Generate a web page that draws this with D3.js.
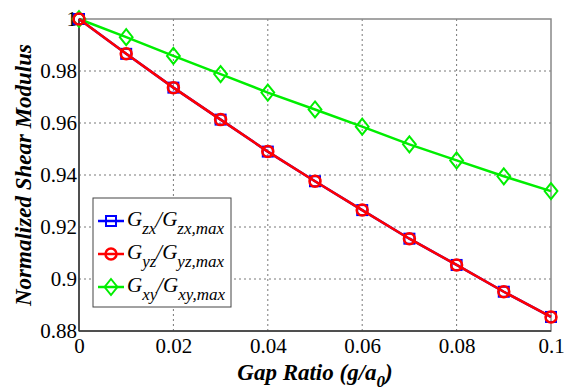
<!DOCTYPE html>
<html>
<head>
<meta charset="utf-8">
<script src="https://cdn.jsdelivr.net/npm/d3@7"></script>
</head>
<body style="margin:0">
<svg width="566" height="392" font-family="Liberation Serif, DejaVu Serif, serif">
  <text transform="translate(31,175) rotate(-90)" text-anchor="middle" font-family="Liberation Serif"
    font-weight="bold" font-style="italic" font-size="23">Normalized Shear Modulus</text>
</svg>
<script>
const gapRatio = [0, 0.01, 0.02, 0.03, 0.04, 0.05, 0.06, 0.07, 0.08, 0.09, 0.1];
const gzx = [1, 0.9866, 0.9736, 0.9613, 0.9490, 0.9376, 0.9265, 0.9155, 0.9054, 0.8951, 0.8854];
const gyz = [1, 0.9866, 0.9736, 0.9613, 0.9490, 0.9376, 0.9265, 0.9155, 0.9054, 0.8951, 0.8854];
const gxy = [1, 0.9930, 0.9858, 0.9788, 0.9717, 0.9652, 0.9586, 0.9518, 0.9456, 0.9395, 0.9338];
const xTicks = [0, 0.02, 0.04, 0.06, 0.08, 0.1];
const yTicks = [0.88, 0.9, 0.92, 0.94, 0.96, 0.98, 1];
const xTickLabels = ["0", "0.02", "0.04", "0.06", "0.08", "0.1"];
const yTickLabels = ["0.88", "0.9", "0.92", "0.94", "0.96", "0.98", "1"];

const FONT = "Liberation Serif, DejaVu Serif, serif";
const M = { left: 79, right: 551, top: 19, bottom: 331 };
const svg = d3.select("svg");
const x = d3.scaleLinear().domain([0, 0.1]).range([M.left, M.right]);
const y = d3.scaleLinear().domain([0.88, 1]).range([M.bottom, M.top]);

// grid
const grid = svg.append("g");
xTicks.slice(1, -1).forEach(t => {
  grid.append("line").attr("x1", x(t)).attr("x2", x(t)).attr("y1", M.top).attr("y2", M.bottom)
    .attr("stroke", "#555").attr("stroke-width", 0.8).attr("stroke-dasharray", "2,3");
});
yTicks.slice(1, -1).forEach(t => {
  grid.append("line").attr("y1", y(t)).attr("y2", y(t)).attr("x1", M.left).attr("x2", M.right)
    .attr("stroke", "#555").attr("stroke-width", 0.8).attr("stroke-dasharray", "2,3");
});

// frame
svg.append("rect").attr("x", M.left).attr("y", M.top)
  .attr("width", M.right - M.left).attr("height", M.bottom - M.top)
  .attr("fill", "none").attr("stroke", "#888").attr("stroke-width", 1.5);
svg.append("line").attr("x1", M.left).attr("x2", M.left).attr("y1", M.top).attr("y2", M.bottom)
  .attr("stroke", "#333").attr("stroke-width", 1.5);
svg.append("line").attr("x1", M.left).attr("x2", M.right).attr("y1", M.bottom).attr("y2", M.bottom)
  .attr("stroke", "#333").attr("stroke-width", 1.5);

// axes
const xAxis = svg.append("g").attr("transform", `translate(0,${M.bottom})`)
  .call(d3.axisBottom(x).tickValues(xTicks).tickFormat((d, i) => xTickLabels[i]).tickSize(0).tickPadding(5));
const yAxis = svg.append("g").attr("transform", `translate(${M.left},0)`)
  .call(d3.axisLeft(y).tickValues(yTicks).tickFormat((d, i) => yTickLabels[i]).tickSize(0).tickPadding(2));
[xAxis, yAxis].forEach(a => {
  a.select(".domain").remove();
  a.attr("font-family", FONT);
  a.selectAll("text").attr("font-family", FONT).attr("font-size", 21).attr("fill", "#000");
});
xAxis.selectAll("text").attr("dy", "0.8em");

// series
const series = [
  { vals: gxy, color: "#00ee00", marker: "diamond" },
  { vals: gzx, color: "#0000ff", marker: "square" },
  { vals: gyz, color: "#ff0000", marker: "circle" }
];
const line = d3.line().x(d => x(d[0])).y(d => y(d[1]));

function drawMarker(g, type, cx, cy, color) {
  if (type === "square") {
    g.append("rect").attr("x", cx - 5).attr("y", cy - 5).attr("width", 10).attr("height", 10)
      .attr("fill", "none").attr("stroke", color).attr("stroke-width", 2);
  } else if (type === "circle") {
    g.append("circle").attr("cx", cx).attr("cy", cy).attr("r", 5.5)
      .attr("fill", "none").attr("stroke", color).attr("stroke-width", 2.5);
  } else {
    const r = 8;
    g.append("path").attr("d", `M${cx},${cy - r}L${cx + r * 0.8},${cy}L${cx},${cy + r}L${cx - r * 0.8},${cy}Z`)
      .attr("fill", "none").attr("stroke", color).attr("stroke-width", 2);
  }
}

series.forEach(s => {
  const pts = gapRatio.map((g, i) => [g, s.vals[i]]);
  svg.append("path").datum(pts).attr("d", line)
    .attr("fill", "none").attr("stroke", s.color).attr("stroke-width", 2.5);
  const mg = svg.append("g");
  pts.forEach(p => drawMarker(mg, s.marker, x(p[0]), y(p[1]), s.color));
});

// legend
const lg = svg.append("g");
lg.append("rect").attr("x", 93).attr("y", 198).attr("width", 138).attr("height", 109)
  .attr("fill", "#fff").attr("stroke", "#444").attr("stroke-width", 1);
const legendItems = [
  { color: "#0000ff", marker: "square", a: "zx" },
  { color: "#ff0000", marker: "circle", a: "yz" },
  { color: "#00ee00", marker: "diamond", a: "xy" }
];
legendItems.forEach((it, i) => {
  const cy = 221 + i * 33;
  lg.append("line").attr("x1", 98).attr("x2", 124).attr("y1", cy).attr("y2", cy)
    .attr("stroke", it.color).attr("stroke-width", 2.5);
  drawMarker(lg, it.marker, 111, cy, it.color);
  const t = lg.append("text").attr("x", 127).attr("y", cy + 5).attr("font-family", FONT)
    .attr("font-style", "italic").attr("font-size", 21);
  t.append("tspan").text("G");
  t.append("tspan").attr("dy", 8).attr("font-size", 17).text(it.a);
  t.append("tspan").attr("dy", -8).text("/G");
  t.append("tspan").attr("dy", 8).attr("font-size", 17).text(it.a + ",max");
});

// x axis title
const xt = svg.append("text").attr("x", 315).attr("y", 380).attr("text-anchor", "middle")
  .attr("font-family", FONT).attr("font-weight", "bold").attr("font-style", "italic")
  .attr("font-size", 23);
xt.append("tspan").text("Gap Ratio (g/a");
xt.append("tspan").attr("dy", 7).attr("font-size", 17).text("0");
xt.append("tspan").attr("dy", -7).text(")");
</script>
</body>
</html>
